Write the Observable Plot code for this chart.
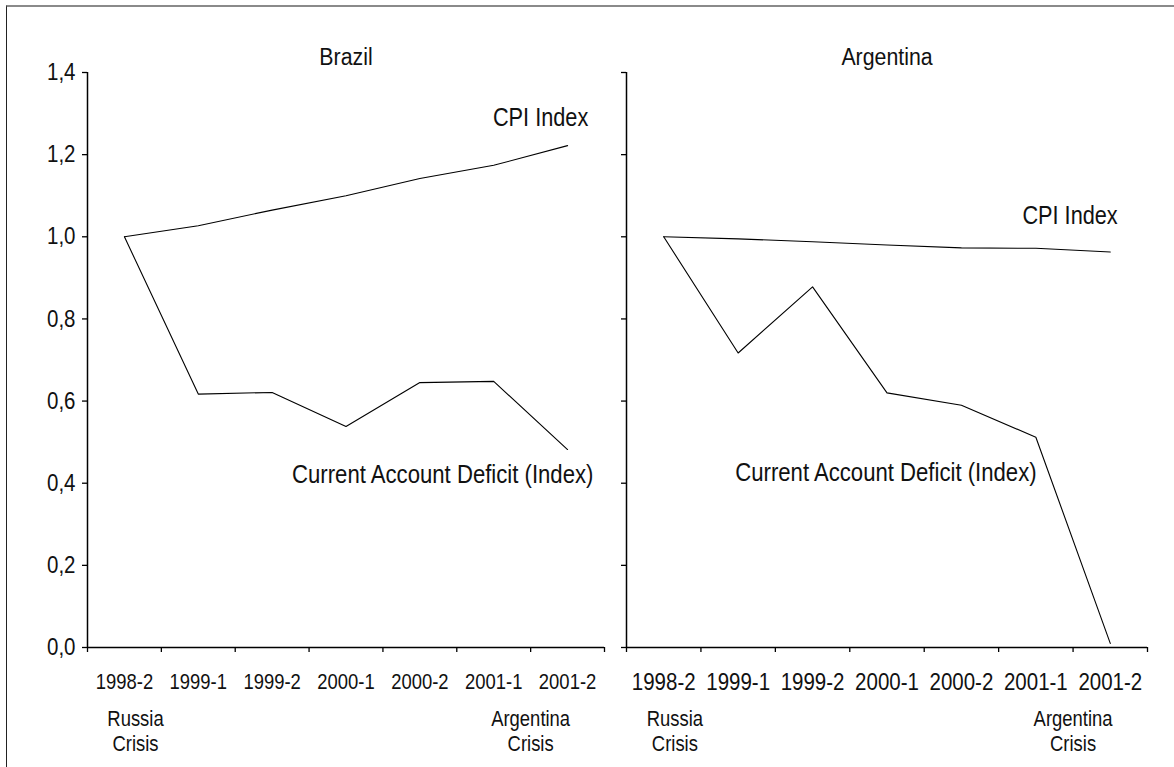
<!DOCTYPE html>
<html><head><meta charset="utf-8">
<script src="https://cdn.jsdelivr.net/npm/d3@7"></script>
<script src="https://cdn.jsdelivr.net/npm/@observablehq/plot@0.6"></script>
<style>
html,body{margin:0;padding:0;background:#fff;}
#wrap{position:relative;width:1174px;height:767px;overflow:hidden;background:#fff;}
#frame{position:absolute;left:6px;top:5px;width:1200px;height:800px;border-top:2px solid #8a8a8a;border-left:1px solid #222;box-sizing:border-box;}
.panel{position:absolute;top:0;}
.panel svg{overflow:visible;}
</style></head><body>
<div id="wrap"><div id="frame"></div><div id="left" class="panel" style="left:0px"></div><div id="right" class="panel" style="left:615px"></div></div>
<script>
// ---- data ----
const periods = ["1998-2","1999-1","1999-2","2000-1","2000-2","2001-1","2001-2"];
const brazilCPI = [1.0, 1.027, 1.065, 1.100, 1.142, 1.174, 1.222];
const brazilCAD = [1.0, 0.617, 0.621, 0.538, 0.645, 0.648, 0.482];
const argentinaCPI = [1.0, 0.995, 0.988, 0.980, 0.973, 0.972, 0.963];
const argentinaCAD = [1.0, 0.717, 0.878, 0.620, 0.590, 0.512, 0.010];
const yTicks = [0, 0.2, 0.4, 0.6, 0.8, 1.0, 1.2, 1.4];
const panelTitles = ["Brazil", "Argentina"];
const seriesNames = ["CPI Index", "Current Account Deficit (Index)"];
const crisisLabels = ["Russia\nCrisis", "Argentina\nCrisis"];

const FONT = '"Liberation Sans", Arial, sans-serif';
const SX = 0.86;               // horizontal condensing of glyphs
const f = n => n * 0.82 / SX;  // narrow-equivalent size -> font px
const fmt = d => d.toFixed(1).replace(".", ",");

function condense(svg){
  svg.querySelectorAll("text").forEach(t => {
    const tr = t.getAttribute("transform");
    if (tr) t.setAttribute("transform", tr + ` scale(${SX},1)`);
    else {
      const x = +t.getAttribute("x") || 0, y = +t.getAttribute("y") || 0;
      t.removeAttribute("x"); t.removeAttribute("y");
      t.setAttribute("transform", `translate(${x},${y}) scale(${SX},1)`);
    }
  });
  return svg;
}

function panel(o){
  const rows = periods.map((p,i)=>({period:p, pos:i+0.5, cpi:o.cpi[i], cad:o.cad[i]}));
  const crisis = [{t: crisisLabels[0], x: 0.65}, {t: crisisLabels[1], x: 6}];
  return condense(Plot.plot({
    width: o.width, height: 767,
    marginLeft: o.mL, marginRight: o.mR, marginTop: 72, marginBottom: 120,
    x: {domain: [0, 7]},
    y: {domain: [0, 1.4]},
    style: {fontFamily: FONT, fontSize: f(25)+"px", color: "#111", background: "transparent"},
    marks: [
      Plot.axisY({ticks: yTicks, tickSize: 5, tickPadding: 7, tickFormat: o.showY ? fmt : () => "", label: null, fontSize: f(25), strokeWidth: 1.3, stroke: "#000"}),
      Plot.axisX({ticks: d3.range(8), tickSize: 5, tickFormat: () => "", label: null, strokeWidth: 1.3, stroke: "#000"}),
      Plot.ruleX([0], {stroke: "#000", strokeWidth: 1.5}),
      Plot.ruleY([0], {stroke: "#000", strokeWidth: 1.5}),
      Plot.line(rows, {x: "pos", y: "cpi", stroke: "#000", strokeWidth: 1.1}),
      Plot.line(rows, {x: "pos", y: "cad", stroke: "#000", strokeWidth: 1.1}),
      Plot.text(rows, {x: "pos", y: 0, text: "period", dy: 35, lineAnchor: "middle", fontSize: f(o.tickFont)}),
      Plot.text([o.title], {frameAnchor: "top", dy: -15, lineAnchor: "middle", fontSize: f(26)}),
      Plot.text(crisis, {x: "x", y: 0, text: "t", dy: 83, lineAnchor: "middle", lineHeight: 25/f(22.5), fontSize: f(22.5)}),
      Plot.text([seriesNames[0]], {x: o.cpiAt[0], y: o.cpiAt[1], textAnchor: "end", lineAnchor: "middle", fontSize: f(26.5)}),
      Plot.text([seriesNames[1]], {x: o.cadAt[0], y: o.cadAt[1], textAnchor: "end", lineAnchor: "middle", fontSize: f(27)})
    ]
  }));
}

document.getElementById("left").append(panel({
  title: panelTitles[0], cpi: brazilCPI, cad: brazilCAD, showY: true,
  width: 615, mL: 87, mR: 11, tickFont: 22.5, cpiAt: [6.78, 1.29], cadAt: [6.85, 0.421]
}));
document.getElementById("right").append(panel({
  title: panelTitles[1], cpi: argentinaCPI, cad: argentinaCAD, showY: false,
  width: 559, mL: 11, mR: 27, tickFont: 25, cpiAt: [6.60, 1.052], cadAt: [5.51, 0.426]
}));
</script>
</body></html>
